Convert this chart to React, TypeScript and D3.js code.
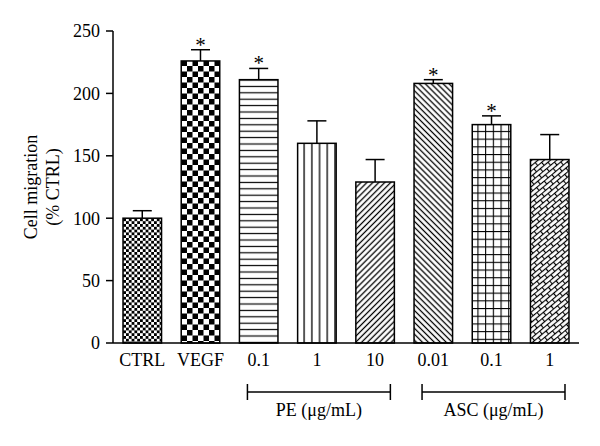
import React from "react";
import * as d3 from "d3";

const categories = ["CTRL", "VEGF", "PE 0.1", "PE 1", "PE 10", "ASC 0.01", "ASC 0.1", "ASC 1"];
const tickLabels = ["CTRL", "VEGF", "0.1", "1", "10", "0.01", "0.1", "1"];
const means = [100, 226, 211, 160, 129, 208, 175, 147];
const errors = [6, 9, 9, 18, 18, 3, 7, 20];
const significant = [false, true, true, false, false, true, true, false];
const patterns = ["fineCheck", "coarseCheck", "hLines", "vLines", "diagUp", "diagDown", "grid", "brick"];
const yTicks = [0, 50, 100, 150, 200, 250];
const groups = [
  { label: "PE (\u03bcg/mL)", from: "PE 0.1", to: "PE 10" },
  { label: "ASC (\u03bcg/mL)", from: "ASC 0.01", to: "ASC 1" },
];

const W = 600, H = 446;
const FONT = "'Liberation Serif', 'Times New Roman', serif";
const FS = 18;

export default function App() {
  const x = d3.scaleBand<string>().domain(categories).range([113, 579]).paddingInner(0.338).paddingOuter(0.172);
  const y = d3.scaleLinear().domain([0, 250]).range([343, 31]);
  const bw = x.bandwidth();
  const cx = (c: string) => (x(c) as number) + bw / 2;

  return (
    <svg width={W} height={H} style={{ position: "absolute", left: 0, top: 0, background: "#fff" }} fontFamily={FONT}>
      <defs>
        <pattern id="fineCheck" width={5.6} height={5.6} patternUnits="userSpaceOnUse">
          <rect width={5.6} height={5.6} fill="#fff" />
          <rect width={2.8} height={2.8} fill="#000" />
          <rect x={2.8} y={2.8} width={2.8} height={2.8} fill="#000" />
        </pattern>
        <pattern id="coarseCheck" width={11} height={11} patternUnits="userSpaceOnUse">
          <rect width={11} height={11} fill="#fff" />
          <rect width={5.5} height={5.5} fill="#000" />
          <rect x={5.5} y={5.5} width={5.5} height={5.5} fill="#000" />
        </pattern>
        <pattern id="hLines" width={10} height={6.4} patternUnits="userSpaceOnUse">
          <rect width={10} height={6.4} fill="#fff" />
          <line x1={0} x2={10} y1={3.2} y2={3.2} stroke="#000" strokeWidth={1.2} />
        </pattern>
        <pattern id="vLines" width={7.7} height={10} patternUnits="userSpaceOnUse">
          <rect width={7.7} height={10} fill="#fff" />
          <line y1={0} y2={10} x1={3.85} x2={3.85} stroke="#000" strokeWidth={1.3} />
        </pattern>
        <pattern id="diagUp" width={4.2} height={10} patternUnits="userSpaceOnUse" patternTransform="rotate(45)">
          <rect width={4.2} height={10} fill="#fff" />
          <line y1={0} y2={10} x1={2.1} x2={2.1} stroke="#000" strokeWidth={1.3} />
        </pattern>
        <pattern id="diagDown" width={4.2} height={10} patternUnits="userSpaceOnUse" patternTransform="rotate(-45)">
          <rect width={4.2} height={10} fill="#fff" />
          <line y1={0} y2={10} x1={2.1} x2={2.1} stroke="#000" strokeWidth={1.3} />
        </pattern>
        <pattern id="grid" width={7.7} height={7.7} patternUnits="userSpaceOnUse">
          <rect width={7.7} height={7.7} fill="#fff" />
          <line x1={0} x2={7.7} y1={0.5} y2={0.5} stroke="#000" strokeWidth={1.2} />
          <line y1={0} y2={7.7} x1={0.5} x2={0.5} stroke="#000" strokeWidth={1.2} />
        </pattern>
        <pattern id="brick" width={10} height={8} patternUnits="userSpaceOnUse" patternTransform="rotate(-40)">
          <rect width={10} height={8} fill="#fff" />
          <line x1={0} x2={10} y1={0.5} y2={0.5} stroke="#000" strokeWidth={1.2} />
          <line x1={0} x2={10} y1={4.5} y2={4.5} stroke="#000" strokeWidth={1.2} />
          <line x1={0.5} x2={0.5} y1={0.5} y2={4.5} stroke="#000" strokeWidth={1.2} />
          <line x1={5.5} x2={5.5} y1={4.5} y2={8} stroke="#000" strokeWidth={1.2} />
        </pattern>
      </defs>

      {/* bars */}
      {categories.map((c, i) => {
        const top = y(means[i]);
        const cap = y(means[i] + errors[i]);
        return (
          <g key={c}>
            <line x1={cx(c)} x2={cx(c)} y1={top} y2={cap} stroke="#000" strokeWidth={1.5} />
            <line x1={cx(c) - 9.5} x2={cx(c) + 9.5} y1={cap} y2={cap} stroke="#000" strokeWidth={1.5} />
            <rect x={x(c)} y={top} width={bw} height={y(0) - top} fill={`url(#${patterns[i]})`} stroke="#000" strokeWidth={1.5} />
            {significant[i] && (
              <text x={cx(c)} y={cap + 2} textAnchor="middle" fontSize={21}>*</text>
            )}
          </g>
        );
      })}

      {/* y axis */}
      <line x1={113} x2={113} y1={y(250)} y2={y(0)} stroke="#000" strokeWidth={1.5} />
      {yTicks.map((t) => (
        <g key={t}>
          <line x1={106} x2={113} y1={y(t)} y2={y(t)} stroke="#000" strokeWidth={1.5} />
          <text x={100} y={y(t)} dy="0.35em" textAnchor="end" fontSize={FS}>{t}</text>
        </g>
      ))}
      <text transform={`translate(37,${(y(0) + y(250)) / 2}) rotate(-90)`} textAnchor="middle" fontSize={FS}>
        <tspan x={0} dy="0">Cell migration</tspan>
        <tspan x={0} dy="1.22em">(% CTRL)</tspan>
      </text>

      {/* x axis */}
      <line x1={113} x2={579} y1={y(0)} y2={y(0)} stroke="#000" strokeWidth={1.5} />
      {categories.map((c, i) => (
        <text key={c} x={cx(c)} y={366} textAnchor="middle" fontSize={FS}>{tickLabels[i]}</text>
      ))}

      {/* group brackets */}
      {groups.map((g) => {
        const x1 = (x(g.from) as number) + 8;
        const x2 = (x(g.to) as number) + bw - 4;
        const yb = 392;
        return (
          <g key={g.label}>
            <line x1={x1} x2={x2} y1={yb} y2={yb} stroke="#000" strokeWidth={1.5} />
            <line x1={x1} x2={x1} y1={yb - 8} y2={yb + 8} stroke="#000" strokeWidth={1.5} />
            <line x1={x2} x2={x2} y1={yb - 8} y2={yb + 8} stroke="#000" strokeWidth={1.5} />
            <text x={(x1 + x2) / 2} y={416} textAnchor="middle" fontSize={FS}>{g.label}</text>
          </g>
        );
      })}
    </svg>
  );
}
